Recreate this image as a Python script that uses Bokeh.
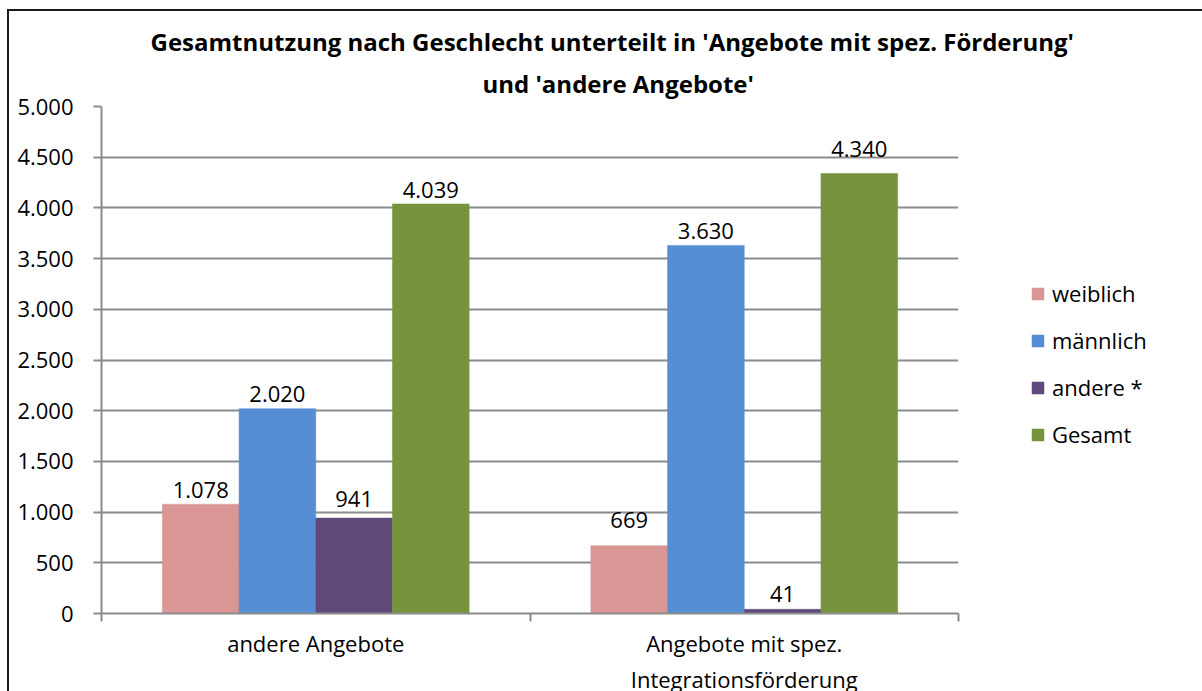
from bokeh.plotting import figure
from bokeh.models import (Range1d, FixedTicker, ColumnDataSource, Legend, LegendItem, Title)
from bokeh.transform import dodge
from bokeh.core.properties import value
from bokeh.embed import file_html
from bokeh.resources import INLINE

# ---- data ----
categories = ["andere Angebote", "Angebote mit spez.\nIntegrationsförderung"]
series_names = ["weiblich", "männlich", "andere *", "Gesamt"]
weiblich = [1078, 669]
maennlich = [2020, 3630]
andere = [941, 41]
gesamt = [4039, 4340]
y_ticks = [0, 500, 1000, 1500, 2000, 2500, 3000, 3500, 4000, 4500, 5000]
y_tick_labels = ["0", "500", "1.000", "1.500", "2.000", "2.500", "3.000", "3.500", "4.000", "4.500", "5.000"]
title_lines = ["Gesamtnutzung nach Geschlecht unterteilt in 'Angebote mit spez. Förderung'",
               "und 'andere Angebote'"]
colors = ["#D99694", "#558ED5", "#604A7B", "#77933C"]
# extra lift (px) of individual data labels, as placed in the original chart
label_lift = [[0, 12], [1, 0], [5, 1], [0, 10]]

FONT = "Open Sans"
FS = "22px"

def de(v):
    return f"{v:,}".replace(",", ".")

series_vals = [weiblich, maennlich, andere, gesamt]
data = {"x": [i + 0.5 for i in range(len(categories))]}
for k, vals in enumerate(series_vals):
    data[f"s{k}"] = vals
    data[f"l{k}"] = [de(v) for v in vals]
    data[f"d{k}"] = [-6 - d for d in label_lift[k]]
src = ColumnDataSource(data)

p = figure(frame_width=857, frame_height=507,
           min_border_left=92, min_border_right=242, min_border_top=95, min_border_bottom=0,
           x_range=Range1d(0, len(categories)), y_range=Range1d(0, 5000),
           output_backend="svg", toolbar_location=None, title=None)
p.styles = {"border-top": "2px solid #1a1a1a", "border-left": "2px solid #1a1a1a",
            "margin-top": "9px", "margin-left": "7px"}
p.outline_line_color = None
p.background_fill_color = "white"
p.border_fill_color = "white"

bw = 0.179
items = []
for k, name in enumerate(series_names):
    off = (k - 1.5) * bw
    r = p.vbar(x=dodge("x", off), top=f"s{k}", width=bw, source=src,
               fill_color=colors[k], line_color=colors[k], line_width=0.5)
    p.text(x=dodge("x", off), y=f"s{k}", text=f"l{k}", source=src,
           text_align="center", text_baseline="bottom", y_offset=f"d{k}",
           text_font=value(FONT), text_font_size=FS, text_color="#000000")
    items.append(LegendItem(label=name, renderers=[r]))

legend = Legend(items=items, location=(72, 164), glyph_width=15, glyph_height=15,
                label_standoff=7, spacing=17, padding=0, margin=0,
                border_line_color=None, background_fill_alpha=0,
                label_text_font=FONT, label_text_font_size=FS, label_height=30,
                label_text_color="#000000")
p.add_layout(legend, "right")

# y axis
yax = p.yaxis[0]
yax.ticker = FixedTicker(ticks=y_ticks)
yax.major_label_overrides = {t: l for t, l in zip(y_ticks, y_tick_labels)}
yax.major_label_text_font = FONT
yax.major_label_text_font_size = FS
yax.major_label_text_color = "#000000"
yax.major_label_standoff = 20
yax.major_tick_out = 8
yax.major_tick_in = 0
yax.minor_tick_line_color = None
yax.axis_line_color = "#8c8c8c"
yax.axis_line_width = 2
yax.major_tick_line_color = "#8c8c8c"
yax.major_tick_line_width = 2

# x axis
xax = p.xaxis[0]
xax.ticker = FixedTicker(ticks=[i + 0.5 for i in range(len(categories))],
                         minor_ticks=list(range(len(categories) + 1)))
xax.major_label_overrides = {i + 0.5: c for i, c in enumerate(categories)}
xax.major_label_text_font = FONT
xax.major_label_text_font_size = FS
xax.major_label_text_color = "#000000"
xax.major_label_standoff = 6
xax.major_tick_out = 0
xax.major_tick_in = 0
xax.major_tick_line_color = None
xax.minor_tick_out = 8
xax.minor_tick_in = 0
xax.minor_tick_line_color = "#8c8c8c"
xax.minor_tick_line_width = 2
xax.axis_line_color = "#8c8c8c"
xax.axis_line_width = 2

p.xgrid.visible = False
p.ygrid.ticker = FixedTicker(ticks=y_ticks)
p.ygrid.grid_line_color = "#8c8c8c"
p.ygrid.grid_line_width = 2

p.add_layout(Title(text=title_lines[1], align="left", offset=381, text_font=FONT,
                   text_font_size="24px", text_font_style="bold", text_color="#000000",
                   standoff=13), "above")
p.add_layout(Title(text=title_lines[0], align="left", offset=49, text_font=FONT,
                   text_font_size="24px", text_font_style="bold", text_color="#000000",
                   standoff=1), "above")

open("out.html", "w").write(file_html(p, INLINE))
